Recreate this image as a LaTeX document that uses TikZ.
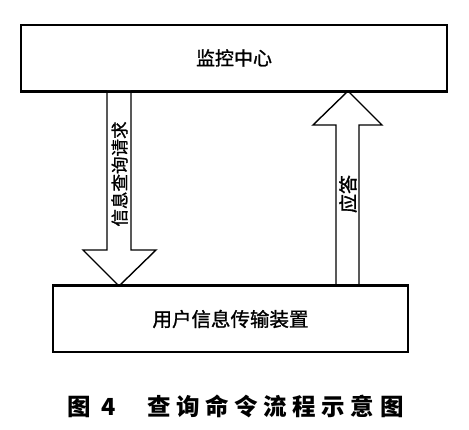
\documentclass[tikz,border=0pt]{standalone}
\usepackage{fontspec}
\newfontfamily\cjk{Noto Sans CJK SC}
\newfontfamily\cjkm{Noto Sans CJK SC}[FakeBold=1.2]
\tikzset{
  box/.style={draw=black, line width=2pt, fill=white, inner sep=0pt},
  blockarrow/.style={draw=black, line width=1.4pt, fill=white, line join=miter},
  lbl/.style={inner sep=0pt, text=black},
}
\begin{document}
\begin{tikzpicture}[x=1pt,y=-1pt]
\useasboundingbox[fill=white] (0,0) rectangle (469,430);
% boxes
\node[box, minimum width=426pt, minimum height=66pt, font=\cjkm\fontsize{19pt}{19pt}\selectfont] (mc) at (234,58) {监控中心};
\node[box, minimum width=355pt, minimum height=66pt, font=\cjkm\fontsize{19.5pt}{19.5pt}\selectfont] (ud) at (230.5,319) {用户信息传输装置};
% left (down) arrow: query request
\coordinate (lt) at (119,286);
\draw[blockarrow] (107,91) -- (131,91) -- (131,250) -- (156,250) -- (lt) -- (83,250) -- (107,250) -- cycle;
\node[lbl, rotate=90, font=\cjkm\fontsize{17.5pt}{17.5pt}\selectfont] (q) at (119.5,174) {信息查询请求};
% right (up) arrow: response
\coordinate (rt) at (348,91);
\draw[blockarrow] (336,286) -- (336,125) -- (313,125) -- (rt) -- (382,125) -- (359,125) -- (359,286) -- cycle;
\node[lbl, rotate=90, font=\cjkm\fontsize{19pt}{19pt}\selectfont] (r) at (348,194) {应答};
% redraw box outlines over arrow ends
\draw[line width=2pt] (mc.south west) -- (mc.south east);
\draw[line width=2pt] (ud.north west) -- (ud.north east);
% caption
\node[lbl, anchor=west, font=\cjk\bfseries\fontsize{23.5pt}{23.5pt}\selectfont\addfontfeatures{LetterSpace=24}] (cap) at (67,406) {图\hspace{11pt}4\hspace{31pt}查询命令流程示意图};
\end{tikzpicture}
\end{document}
